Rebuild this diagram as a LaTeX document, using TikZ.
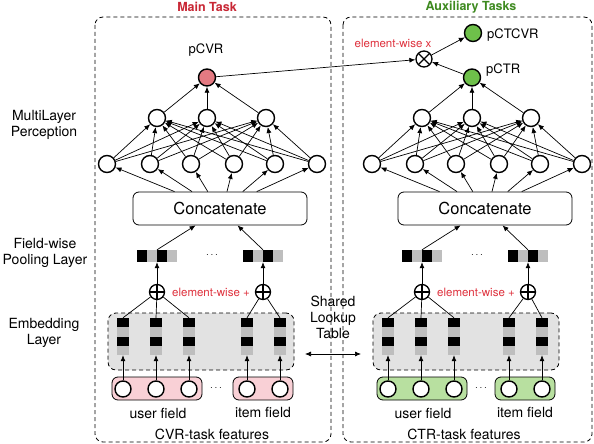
\documentclass[tikz,border=0pt]{standalone}
\usepackage{fontspec}
\setmainfont{TeX Gyre Heros}
\usetikzlibrary{arrows.meta,calc}
\definecolor{redF}{RGB}{228,122,130}
\definecolor{greenD}{RGB}{110,192,74}
\definecolor{pinkF}{RGB}{249,208,214}
\definecolor{greenF}{RGB}{184,224,160}
\definecolor{embF}{RGB}{226,226,226}
\definecolor{cellG}{RGB}{190,190,190}
\definecolor{mainR}{RGB}{200,38,52}
\definecolor{auxG}{RGB}{62,138,32}
\definecolor{ewR}{RGB}{222,48,60}
\begin{document}
\begin{tikzpicture}[x=1pt,y=-1pt,
  neuron/.style={circle,draw,line width=1.4pt,fill=white,minimum size=17pt,inner sep=0},
  fneuron/.style={neuron,minimum size=16pt},
  conn/.style={line width=0.7pt,-{Latex[length=6pt,width=5pt]}},
  plain/.style={line width=0.7pt},
  lab/.style={font=\fontsize{14}{16}\selectfont,align=center,inner sep=0},
  small/.style={font=\fontsize{13}{15}\selectfont,inner sep=0},
  ew/.style={font=\fontsize{11.5}{13}\selectfont,text=ewR,inner sep=0},
  title/.style={font=\bfseries\fontsize{12.5}{14}\selectfont,inner sep=0},
  frame/.style={draw,line width=0.8pt,dash pattern=on 4pt off 3pt,rounded corners=8pt},
  catbox/.style={draw,line width=0.8pt,rounded corners=6pt,minimum width=174pt,minimum height=33pt,inner sep=0,font=\fontsize{16.5}{18}\selectfont},
  embbox/.style={draw,line width=0.8pt,dash pattern=on 4pt off 3pt,rounded corners=8pt,fill=embF,minimum width=186pt,minimum height=57pt,inner sep=0},
  field/.style={draw,line width=0.8pt,rounded corners=6pt,minimum height=23pt,inner sep=0},
  vec/.style={minimum width=40pt,minimum height=12pt,inner sep=0,
    path picture={
      \fill[black] (path picture bounding box.north west) rectangle ++(10pt,-12pt);
      \fill[cellG] ($(path picture bounding box.north west)+(10pt,0pt)$) rectangle ++(10pt,-12pt);
      \fill[black] ($(path picture bounding box.north west)+(20pt,0pt)$) rectangle ++(10pt,-12pt);
      \fill[cellG] ($(path picture bounding box.north west)+(30pt,0pt)$) rectangle ++(10pt,-12pt);
    }},
  colv/.style={minimum width=12pt,minimum height=37pt,inner sep=0,
    path picture={
      \fill[black] (path picture bounding box.north west) rectangle ++(12pt,-9.25pt);
      \fill[cellG] ($(path picture bounding box.north west)+(0pt,-9.25pt)$) rectangle ++(12pt,-9.25pt);
      \fill[black] ($(path picture bounding box.north west)+(0pt,-18.5pt)$) rectangle ++(12pt,-9.25pt);
      \fill[cellG] ($(path picture bounding box.north west)+(0pt,-27.75pt)$) rectangle ++(12pt,-9.25pt);
    }},
  oplus/.style={circle,draw,line width=1.3pt,fill=white,minimum size=15pt,inner sep=0,
    path picture={\draw[line width=1.3pt] (path picture bounding box.north) -- (path picture bounding box.south)
      (path picture bounding box.west) -- (path picture bounding box.east);}},
  otimes/.style={circle,draw,line width=1.3pt,fill=white,minimum size=16pt,inner sep=0,
    path picture={\draw[line width=1.3pt] (path picture bounding box.north west) -- (path picture bounding box.south east)
      (path picture bounding box.south west) -- (path picture bounding box.north east);}}
]
\useasboundingbox (0,0) rectangle (594,444);

% frames
\draw[frame] (95,17) rectangle (331,442);
\draw[frame] (343,17) rectangle (592,442);

% titles
\node[title,text=mainR] (tmain) at (207,7) {Main Task};
\node[title,text=auxG] (taux) at (471,7) {Auxiliary Tasks};

% left labels
\node[lab] (lmlp) at (44,125) {MultiLayer\\Perception};
\node[lab] (lpool) at (45,253) {Field-wise\\Pooling Layer};
\node[lab] (lemb) at (44,333) {Embedding\\Layer};

\foreach \p/\dx/\ix/\fc/\ofc/\fcen/\flab in {L/0/0/pinkF/redF/212/CVR, R/265/3/greenF/greenD/464/CTR}{
  % embedding box
  \node[embbox] (emb\p) at (201+\dx,341.5) {};
  % fields
  \node[field,fill=\fc,minimum width=90pt] (uf\p) at (157+\dx,388.5) {};
  \node[field,fill=\fc,minimum width=60pt] (if\p) at (263+\dx-\ix,388.5) {};
  % columns and field circles
  \foreach \x [count=\i] in {123,156,189} {
    \node[colv] (e\i\p) at (\x+\dx,336.5) {};
    \node[fneuron] (f\i\p) at (\x+\dx,389) {};
    \draw[conn] (f\i\p) -- (e\i\p.south);
  }
  \foreach \x [count=\i from 4] in {247,280} {
    \node[colv] (e\i\p) at (\x+\dx-\ix,336.5) {};
    \node[fneuron] (f\i\p) at (\x+\dx-\ix,389) {};
    \draw[conn] (f\i\p) -- (e\i\p.south);
  }
  \node[inner sep=0] (fd\p) at (216+\dx,388) {$\cdots$};
  \node[lab] (ul\p) at (158+\dx,413) {user field};
  \node[lab] (il\p) at (263+\dx-\ix,412) {item field};
  \node[lab] (ft\p) at (\fcen,434) {\flab-task features};
  % pooling
  \node[oplus] (p1\p) at (157+\dx,292) {};
  \node[oplus] (p2\p) at (263+\dx,292) {};
  \draw[plain] (p1\p) -- (e1\p.north);
  \draw[plain] (p1\p) -- (e2\p.north);
  \draw[plain] (p1\p) -- (e3\p.north);
  \draw[plain] (p2\p) -- (e4\p.north);
  \draw[plain] (p2\p) -- (e5\p.north);
  \node[ew] (ewp\p) at (211+\dx,292) {element-wise +};
  \node[vec] (v1\p) at (157+\dx,256) {};
  \node[vec] (v2\p) at (263+\dx,256) {};
  \node[inner sep=0] (vd\p) at (212+\dx,255) {$\cdots$};
  \draw[conn] (p1\p) -- (v1\p.south);
  \draw[conn] (p2\p) -- (v2\p.south);
  % concatenate
  \node[catbox] (c\p) at (220+\dx,208.5) {Concatenate};
  \draw[conn] (v1\p.north) -- ($(c\p.south west)!0.36!(c\p.south east)$);
  \draw[conn] (v2\p.north) -- ($(c\p.south west)!0.60!(c\p.south east)$);
  % MLP
  \foreach \x [count=\i] in {107,150,191,234,275,317}
    \node[neuron] (a\i\p) at (\x+\dx,164) {};
  \foreach \x [count=\j] in {157,207,266}
    \node[neuron] (b\j\p) at (\x+\dx,118) {};
  \foreach \f [count=\i] in {0.24,0.34,0.43,0.54,0.63,0.71}
    \draw[conn] ($(c\p.north west)!\f!(c\p.north east)$) -- (a\i\p);
  \foreach \i in {1,...,6}
    \foreach \j in {1,2,3}
      \draw[conn] (a\i\p) -- (b\j\p);
  \node[neuron,fill=\ofc] (o\p) at (207+\dx,77.5) {};
  \foreach \j in {1,2,3}
    \draw[conn] (b\j\p) -- (o\p);
}

% outputs
\node[small] (lcvr) at (206,50) {pCVR};
\node[small,anchor=west] (lctr) at (486,70) {pCTR};
\node[neuron,fill=greenD] (tc) at (473,33) {};
\node[small,anchor=west] (lctcvr) at (487,35) {pCTCVR};
\node[otimes] (ot) at (424,59) {};
\node[ew] (ewx) at (393,43) {element-wise x};
\draw[conn] (oL) -- (ot);
\draw[conn] (oR) -- (ot);
\draw[conn] (ot) -- (tc);

% shared lookup table
\node[lab] (slt) at (333,317) {Shared\\Lookup\\Table};
\coordinate (sa) at (305,354);
\coordinate (sb) at (361,354);
\draw[line width=0.7pt,{Latex[length=6pt,width=5pt]}-{Latex[length=6pt,width=5pt]}] (sa) -- (sb);
\end{tikzpicture}
\end{document}
